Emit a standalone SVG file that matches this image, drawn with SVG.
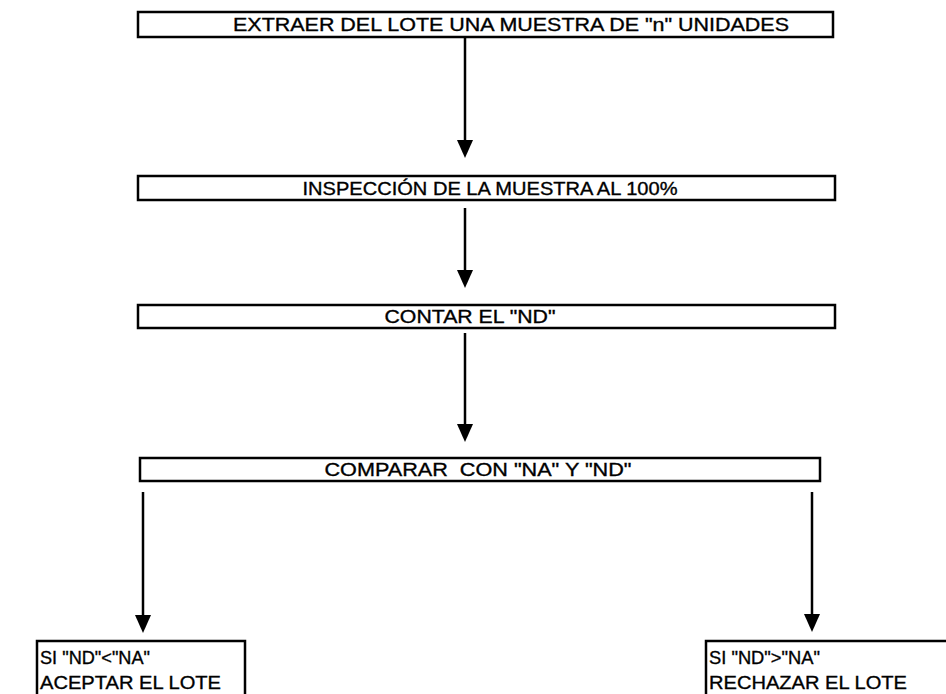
<svg xmlns="http://www.w3.org/2000/svg" width="946" height="694" viewBox="0 0 946 694">
<defs>
<style>
.box{fill:#fff;stroke:#000;stroke-width:2.5}
.t{font-family:"Liberation Sans",Arial,sans-serif;font-size:19px;fill:#000;stroke:#000;stroke-width:0.35}
.c{text-anchor:middle}
.ln{stroke:#000;stroke-width:2.5;fill:none}
.ah{fill:#000}
</style>
</defs>
<rect width="946" height="694" fill="#fff"/>
<g id="n1"><rect class="box" x="138" y="12" width="695" height="25"/><text class="t c" x="511" y="31" textLength="556" lengthAdjust="spacingAndGlyphs">EXTRAER DEL LOTE UNA MUESTRA DE "n" UNIDADES</text></g>
<g id="n2"><rect class="box" x="138" y="176" width="697" height="24"/><text class="t c" x="490" y="195" textLength="375" lengthAdjust="spacingAndGlyphs">INSPECCIÓN DE LA MUESTRA AL 100%</text></g>
<g id="n3"><rect class="box" x="138" y="305" width="697" height="23"/><text class="t c" x="470" y="323" textLength="171" lengthAdjust="spacingAndGlyphs">CONTAR EL "ND"</text></g>
<g id="n4"><rect class="box" x="140" y="458" width="680" height="23"/><text class="t c" x="478" y="476" textLength="307" lengthAdjust="spacingAndGlyphs" xml:space="preserve">COMPARAR  CON "NA" Y "ND"</text></g>
<g id="n5"><rect class="box" x="37" y="641" width="208" height="70"/><text class="t" x="40" y="664" textLength="110" lengthAdjust="spacingAndGlyphs">SI "ND"&lt;"NA"</text><text class="t" x="40" y="689" textLength="181" lengthAdjust="spacingAndGlyphs">ACEPTAR EL LOTE</text></g>
<g id="n6"><rect class="box" x="706" y="641" width="260" height="70"/><text class="t" x="709" y="664" textLength="111" lengthAdjust="spacingAndGlyphs">SI "ND"&gt;"NA"</text><text class="t" x="709" y="689" textLength="198" lengthAdjust="spacingAndGlyphs">RECHAZAR EL LOTE</text></g>
<g id="connectors">
<line class="ln" x1="465" y1="38" x2="465" y2="142"/>
<polygon class="ah" points="457,140 473,140 465,158"/>
<line class="ln" x1="465" y1="208" x2="465" y2="272"/>
<polygon class="ah" points="457,270 473,270 465,288"/>
<line class="ln" x1="465" y1="333" x2="465" y2="426"/>
<polygon class="ah" points="457,424 473,424 465,442"/>
<line class="ln" x1="143" y1="492" x2="143" y2="617"/>
<polygon class="ah" points="135,615 151,615 143,633"/>
<line class="ln" x1="812" y1="492" x2="812" y2="616"/>
<polygon class="ah" points="804,614 820,614 812,632"/>
</g>
</svg>
